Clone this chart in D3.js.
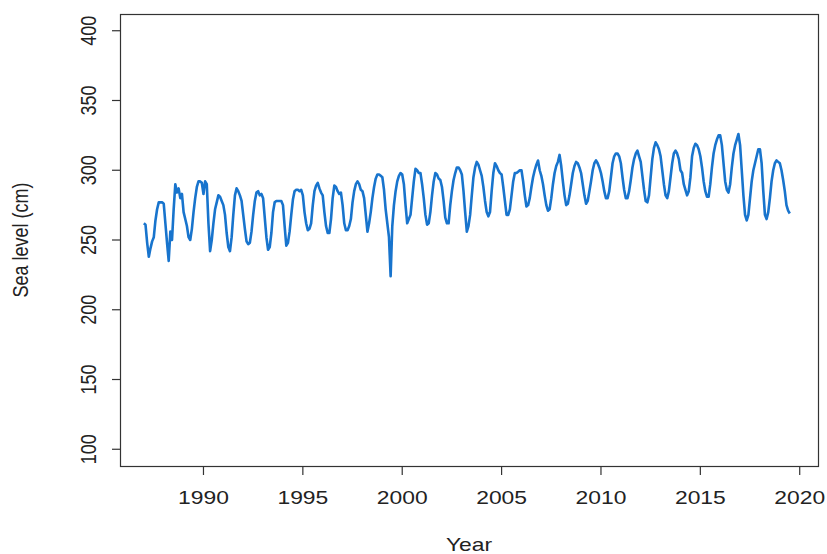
<!DOCTYPE html>
<html><head><meta charset="utf-8">
<script src="https://cdn.jsdelivr.net/npm/d3@7"></script>
<style>body{margin:0;background:#fff}svg{display:block}text{font-family:"Liberation Sans",Arial,sans-serif;fill:#222}</style>
</head><body><svg id="c" width="827" height="554"></svg>
<script>
const startYear = 1987;
const level1987 = [262,261,248,238,244,249,252,264,272,277,277,277];
const level1988 = [276,262,248,235,256,250,272,290,284,287,280,283];
const level1989 = [270,265,260,252,250,258,270,280,288,292,292,291];
const level1990 = [283,292,290,262,242,250,262,272,277,282,281,278];
const level1991 = [275,268,255,245,242,252,268,282,287,285,282,278];
const level1992 = [268,258,249,247,248,256,268,278,284,285,282,283];
const level1993 = [280,266,252,243,245,255,270,277,278,278,278,278];
const level1994 = [275,260,246,248,256,268,279,285,286,286,285,286];
const level1995 = [282,270,262,257,258,262,275,285,289,291,287,284];
const level1996 = [282,270,260,255,255,265,280,289,288,285,283,284];
const level1997 = [275,262,257,257,260,265,277,285,290,292,290,286];
const level1998 = [285,280,268,256,262,270,280,288,294,297,297,296];
const level1999 = [295,286,272,262,252,224,260,275,285,292,296,298];
const level2000 = [297,290,275,262,265,268,280,292,301,300,298,298];
const level2001 = [290,280,268,261,262,270,282,292,298,297,294,293];
const level2002 = [288,278,266,262,262,275,285,293,298,302,302,300];
const level2003 = [297,285,270,256,260,268,282,295,302,306,304,300];
const level2004 = [296,288,278,270,267,270,285,298,305,303,300,298];
const level2005 = [297,288,278,268,268,272,282,292,298,298,299,300];
const level2006 = [300,292,282,274,275,280,288,295,300,304,307,300];
const level2007 = [296,290,282,275,271,272,280,290,298,303,306,311];
const level2008 = [303,292,282,275,276,282,290,298,303,306,305,302];
const level2009 = [298,290,282,276,278,285,292,300,305,307,305,302];
const level2010 = [298,292,285,280,280,285,295,305,310,312,312,310];
const level2011 = [305,295,286,280,280,285,293,302,308,312,314,310];
const level2012 = [306,296,286,278,277,282,295,308,316,320,318,315];
const level2013 = [310,300,290,282,280,285,295,305,312,314,312,308];
const level2014 = [300,298,290,286,282,285,295,310,316,319,318,315];
const level2015 = [310,302,292,285,281,281,290,302,312,318,322,325];
const level2016 = [325,318,305,292,286,284,290,302,312,318,322,326];
const level2017 = [318,300,282,268,264,268,280,292,300,305,310,315];
const level2018 = [315,305,285,268,265,270,280,292,300,305,307,306];
const level2019 = [305,300,293,285,275,271,269];
const xTicks = [1990,1995,2000,2005,2010,2015,2020];
const yTicks = [100,150,200,250,300,350,400];

const years = [level1987,level1988,level1989,level1990,level1991,level1992,level1993,level1994,level1995,level1996,level1997,level1998,level1999,level2000,level2001,level2002,level2003,level2004,level2005,level2006,level2007,level2008,level2009,level2010,level2011,level2012,level2013,level2014,level2015,level2016,level2017,level2018,level2019];
const data = [];
years.forEach((arr, i) => arr.forEach((v, m) => data.push({t: startYear + i + m/12, v})));

const svg = d3.select("#c");
const L = 120, R = 818, T = 14, B = 466;
const x = d3.scaleLinear().domain([1985.8, 2020.92]).range([L, R]);
const y = d3.scaleLinear().domain([88, 412]).range([B, T]);

svg.append("path").datum(data)
  .attr("fill","none").attr("stroke","#1874CD").attr("stroke-width",2.6)
  .attr("stroke-linejoin","round")
  .attr("d", d3.line().x(d => x(d.t)).y(d => y(d.v)));

svg.append("rect").attr("x",L+0.5).attr("y",T+0.5).attr("width",R-L).attr("height",B-T)
  .attr("fill","none").attr("stroke","#333").attr("stroke-width",1.2);

const fs = 18, sx = 1.27;
const xa = svg.append("g");
xa.append("line").attr("x1",x(xTicks[0])).attr("x2",x(xTicks[xTicks.length-1])).attr("y1",B+0.5).attr("y2",B+0.5).attr("stroke","#333");
xTicks.forEach(t => {
  xa.append("line").attr("x1",x(t)).attr("x2",x(t)).attr("y1",B).attr("y2",B+9).attr("stroke","#333").attr("stroke-width",1.2);
  xa.append("text").attr("transform",`translate(${x(t)},504) scale(${sx},1)`).attr("text-anchor","middle").attr("font-size",fs).text(t);
});
const ya = svg.append("g");
yTicks.forEach(v => {
  ya.append("line").attr("x1",L-8).attr("x2",L).attr("y1",y(v)).attr("y2",y(v)).attr("stroke","#333").attr("stroke-width",1.2);
  ya.append("text").attr("transform",`translate(96,${y(v)}) scale(${sx},1) rotate(-90)`).attr("text-anchor","middle").attr("font-size",fs).text(v);
});
svg.append("text").attr("transform",`translate(${(L+R)/2},551) scale(${sx},1)`).attr("text-anchor","middle").attr("font-size",fs).text("Year");
svg.append("text").attr("transform",`translate(28,${(T+B)/2}) scale(${sx},1) rotate(-90)`).attr("text-anchor","middle").attr("font-size",fs).text("Sea level (cm)");
</script></body></html>
